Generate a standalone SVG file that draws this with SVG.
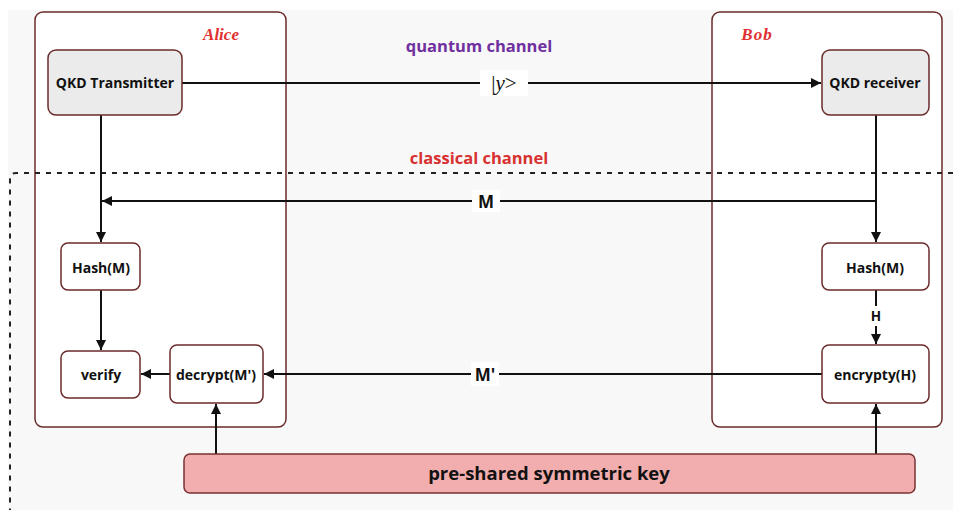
<svg xmlns="http://www.w3.org/2000/svg" width="953" height="513" viewBox="0 0 953 513">
  <style>
    .party { fill: #ffffff; stroke: #6b2b2b; stroke-width: 1.5; }
    .qkd { fill: #ebebeb; stroke: #6b2b2b; stroke-width: 1.5; }
    .step { fill: #ffffff; stroke: #6b2b2b; stroke-width: 1.5; }
    .key { fill: #f2aeae; stroke: #7a3232; stroke-width: 1.5; }
    .lbl { font-family: "Open Sans", "Noto Sans", sans-serif; font-weight: 700; fill: #111111; text-anchor: middle; }
    .name { font-family: "Liberation Serif", serif; font-style: italic; font-weight: 700; font-size: 17px; fill: #e03030; text-anchor: middle; }
    .wire { stroke: #111111; stroke-width: 2; fill: none; }
    .tag { fill: #ffffff; }
  </style>
  <defs>
    <marker id="arrow" viewBox="0 0 10 10" refX="10" refY="5" markerWidth="10" markerHeight="10" markerUnits="userSpaceOnUse" orient="auto">
      <path d="M0,0 L10,5 L0,10 z" fill="#111111"/>
    </marker>
  </defs>

  <!-- canvas -->
  <rect x="8" y="10" width="945" height="500" fill="#f8f8f8"/>

  <g id="alice">
    <rect class="party" x="35" y="12" width="251" height="415" rx="8"/>
    <text class="name" x="221" y="40">Alice</text>
  </g>
  <g id="bob">
    <rect class="party" x="712" y="12" width="230" height="415" rx="8"/>
    <text class="name" x="757" y="40" letter-spacing="1">Bob</text>
  </g>

  <!-- classical channel boundary, drawn across both parties -->
  <path d="M953,173 L16,173 Q10,173 10,179 L10,510" fill="none" stroke="#222222" stroke-width="2" stroke-dasharray="5,6"/>

  <text class="lbl" x="479" y="52" font-size="16.5" style="fill:#7030a0">quantum channel</text>
  <text class="lbl" x="479" y="164" font-size="16.5" style="fill:#d83030">classical channel</text>

  <g id="connectors">
    <line class="wire" x1="182" y1="83" x2="821" y2="83" marker-end="url(#arrow)"/>
    <line class="wire" x1="101" y1="115" x2="101" y2="242" marker-end="url(#arrow)"/>
    <line class="wire" x1="876" y1="115" x2="876" y2="242" marker-end="url(#arrow)"/>
    <line class="wire" x1="876" y1="201" x2="102" y2="201" marker-end="url(#arrow)"/>
    <line class="wire" x1="101" y1="290" x2="101" y2="350" marker-end="url(#arrow)"/>
    <line class="wire" x1="170" y1="374" x2="141" y2="374" marker-end="url(#arrow)"/>
    <line class="wire" x1="876" y1="290" x2="876" y2="344" marker-end="url(#arrow)"/>
    <line class="wire" x1="822" y1="374" x2="264" y2="374" marker-end="url(#arrow)"/>
    <line class="wire" x1="216" y1="454" x2="216" y2="404" marker-end="url(#arrow)"/>
    <line class="wire" x1="876" y1="454" x2="876" y2="404" marker-end="url(#arrow)"/>

    <rect class="tag" x="480" y="70" width="48" height="26"/>
    <text x="504" y="90" font-family="Liberation Serif, serif" font-size="21" fill="#111111" text-anchor="middle">|<tspan font-style="italic">y</tspan>&gt;</text>

    <rect class="tag" x="472" y="190" width="28" height="22"/>
    <text class="lbl" x="486" y="208" font-size="17">M</text>

    <rect class="tag" x="866" y="306" width="20" height="20"/>
    <text class="lbl" x="876" y="321" font-size="13.5">H</text>

    <rect class="tag" x="471" y="362" width="28" height="24"/>
    <text class="lbl" x="485" y="381" font-size="17">M'</text>
  </g>

  <g id="qkd-transmitter">
    <rect class="qkd" x="48" y="50" width="134" height="65" rx="8"/>
    <text class="lbl" x="115" y="88" font-size="14">QKD Transmitter</text>
  </g>
  <g id="qkd-receiver">
    <rect class="qkd" x="822" y="50" width="107" height="65" rx="8"/>
    <text class="lbl" x="875" y="88" font-size="14">QKD receiver</text>
  </g>
  <g id="hash-alice">
    <rect class="step" x="61" y="243" width="79" height="47" rx="7"/>
    <text class="lbl" x="101" y="273" font-size="14">Hash(M)</text>
  </g>
  <g id="verify">
    <rect class="step" x="61" y="351" width="79" height="47" rx="7"/>
    <text class="lbl" x="101" y="380" font-size="14">verify</text>
  </g>
  <g id="decrypt">
    <rect class="step" x="170" y="345" width="93" height="58" rx="7"/>
    <text class="lbl" x="216" y="380" font-size="14">decrypt(M')</text>
  </g>
  <g id="hash-bob">
    <rect class="step" x="822" y="243" width="107" height="47" rx="7"/>
    <text class="lbl" x="875" y="273" font-size="14">Hash(M)</text>
  </g>
  <g id="encrypt">
    <rect class="step" x="822" y="345" width="107" height="58" rx="7"/>
    <text class="lbl" x="875" y="380" font-size="14">encrypty(H)</text>
  </g>
  <g id="pre-shared-key">
    <rect class="key" x="184" y="454" width="731" height="39" rx="6"/>
    <text class="lbl" x="549" y="480" font-size="18.5">pre-shared symmetric key</text>
  </g>
</svg>
